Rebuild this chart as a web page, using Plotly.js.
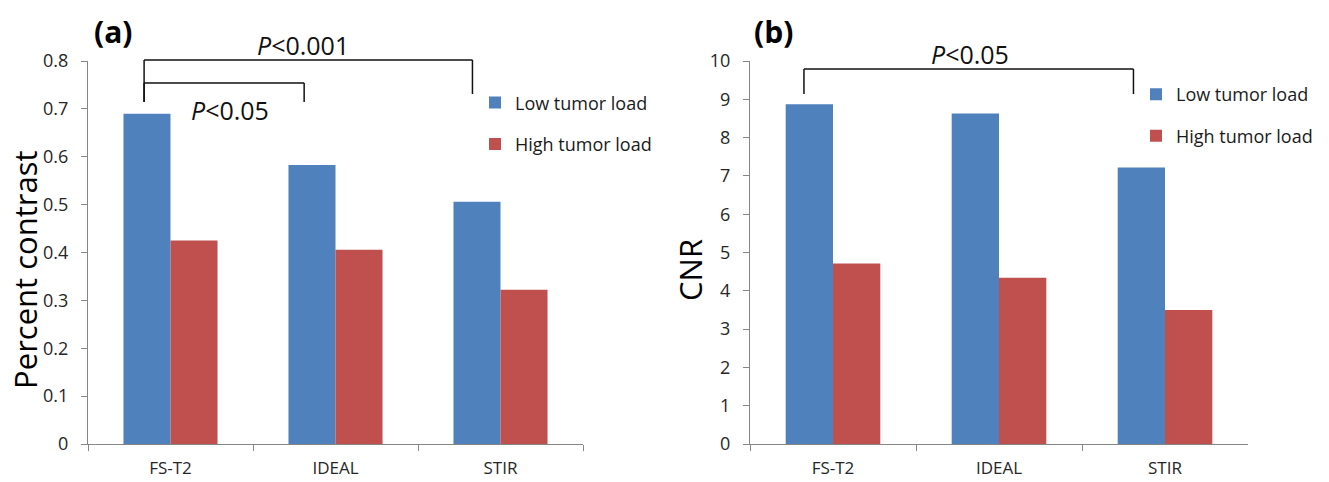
<!DOCTYPE html>
<html>
<head>
<meta charset="utf-8">
<script src="https://cdn.plot.ly/plotly-3.0.1.min.js"></script>
<style>html,body{margin:0;padding:0;background:#fff;}#chart{width:1329px;height:482px;}</style>
</head>
<body>
<div id="chart"></div>
<script>
// Data
var categories = ["FS-T2", "IDEAL", "STIR"];
var seriesNames = ["Low tumor load", "High tumor load"];
var contrastLow = [0.69, 0.583, 0.506];
var contrastHigh = [0.425, 0.406, 0.322];
var cnrLow = [8.87, 8.63, 7.22];
var cnrHigh = [4.71, 4.34, 3.5];
var contrastTicks = [0, 0.1, 0.2, 0.3, 0.4, 0.5, 0.6, 0.7, 0.8];
var cnrTicks = [0, 1, 2, 3, 4, 5, 6, 7, 8, 9, 10];
var panelLabels = ["(a)", "(b)"];
var yTitles = ["Percent contrast", "CNR"];
var pTexts = ["<i>P</i>&lt;0.001", "<i>P</i>&lt;0.05", "<i>P</i>&lt;0.05"];

var BLUE = "#4F81BD", RED = "#C0504D";
var FONT = "Open Sans, sans-serif";
var AXC = "#868686";

var traces = [
  {type: "bar", x: categories, y: contrastLow, name: seriesNames[0], marker: {color: BLUE}, xaxis: "x", yaxis: "y", legend: "legend", legendgroup: "a1"},
  {type: "bar", x: categories, y: contrastHigh, name: seriesNames[1], marker: {color: RED}, xaxis: "x", yaxis: "y", legend: "legend", legendgroup: "a2"},
  {type: "bar", x: categories, y: cnrLow, name: seriesNames[0], marker: {color: BLUE}, xaxis: "x2", yaxis: "y2", legend: "legend2", legendgroup: "b1"},
  {type: "bar", x: categories, y: cnrHigh, name: seriesNames[1], marker: {color: RED}, xaxis: "x2", yaxis: "y2", legend: "legend2", legendgroup: "b2"}
];

function xax(domain) {
  return {domain: domain, type: "category", showline: true, linecolor: AXC, linewidth: 1,
    ticks: "outside", tickson: "boundaries", ticklen: 6, tickcolor: AXC,
    tickfont: {family: FONT, size: 17, color: "#262626"}, ticklabelstandoff: 9,
    showgrid: false, zeroline: false, fixedrange: true};
}
function yax(domain, rng, vals) {
  return {domain: domain, range: rng, tickvals: vals, showline: true, linecolor: AXC, linewidth: 1,
    ticks: "outside", ticklen: 6, tickcolor: AXC,
    tickfont: {family: FONT, size: 18, color: "#262626"}, ticklabelstandoff: 9,
    showgrid: false, zeroline: false, fixedrange: true};
}

var yDom = [38/482, 421/482];

var layout = {
  width: 1329, height: 482,
  margin: {l: 0, r: 0, t: 0, b: 0},
  paper_bgcolor: "#fff", plot_bgcolor: "#fff",
  barmode: "group", bargap: 0.43, bargroupgap: 0,
  showlegend: true,
  xaxis: xax([88/1329, 583/1329]),
  yaxis: Object.assign(yax(yDom, [0, 0.8], contrastTicks), {anchor: "x", tickformat: ".1~f"}),
  xaxis2: Object.assign(xax([750/1329, 1248/1329]), {anchor: "y2"}),
  yaxis2: Object.assign(yax(yDom, [0, 10], cnrTicks), {anchor: "x2"}),
  legend: {x: 475/1329, y: 0.825, xanchor: "left", yanchor: "top", traceorder: "grouped", tracegroupgap: 15,
    font: {family: FONT, size: 18, color: "#1a1a1a"}, bgcolor: "rgba(0,0,0,0)", itemclick: false},
  legend2: {x: 1136/1329, y: 0.842, xanchor: "left", yanchor: "top", traceorder: "grouped", tracegroupgap: 15,
    font: {family: FONT, size: 18, color: "#1a1a1a"}, bgcolor: "rgba(0,0,0,0)", itemclick: false},
  shapes: [],
  annotations: []
};

// Brackets (x in category index units, y in paper)
function lines(xr, x0, x1, yTop, yL, yR) {
  var L = {color: "#111", width: 1.5};
  layout.shapes.push({type: "line", xref: xr, yref: "paper", x0: x0, x1: x1, y0: yTop, y1: yTop, line: L});
  layout.shapes.push({type: "line", xref: xr, yref: "paper", x0: x0, x1: x0, y0: yTop, y1: yL, line: L});
  layout.shapes.push({type: "line", xref: xr, yref: "paper", x0: x1, x1: x1, y0: yTop, y1: yR, line: L});
}
lines("x", -0.16, 1.83, 0.8755, 0.7884, 0.805);
lines("x", -0.16, 0.81, 0.8278, 0.7884, 0.7884);
lines("x2", -0.175, 1.81, 0.8568, 0.805, 0.805);

var pf = {family: FONT, size: 25, color: "#111"};
layout.annotations.push({xref: "x", yref: "paper", x: 0.8, y: 0.907, text: pTexts[0], showarrow: false, font: pf, xanchor: "center", yanchor: "middle"});
layout.annotations.push({xref: "x", yref: "paper", x: 0.36, y: 0.772, text: pTexts[1], showarrow: false, font: pf, xanchor: "center", yanchor: "middle"});
layout.annotations.push({xref: "x2", yref: "paper", x: 0.825, y: 0.888, text: pTexts[2], showarrow: false, font: pf, xanchor: "center", yanchor: "middle"});

var lf = {family: FONT, size: 30, color: "#000", weight: "bold"};
layout.annotations.push({xref: "paper", yref: "paper", x: 113/1329, y: 0.935, text: "<b>" + panelLabels[0] + "</b>", showarrow: false, font: lf, xanchor: "center", yanchor: "middle"});
layout.annotations.push({xref: "paper", yref: "paper", x: 773/1329, y: 0.935, text: "<b>" + panelLabels[1] + "</b>", showarrow: false, font: lf, xanchor: "center", yanchor: "middle"});

var tf = {family: FONT, size: 31, color: "#000"};
layout.annotations.push({xref: "paper", yref: "paper", x: 25/1329, y: 0.44, text: yTitles[0], textangle: -90, showarrow: false, font: tf, xanchor: "center", yanchor: "middle"});
layout.annotations.push({xref: "paper", yref: "paper", x: 690/1329, y: 0.44, text: yTitles[1], textangle: -90, showarrow: false, font: tf, xanchor: "center", yanchor: "middle"});

Plotly.newPlot("chart", traces, layout, {staticPlot: true, displayModeBar: false});
</script>
</body>
</html>
